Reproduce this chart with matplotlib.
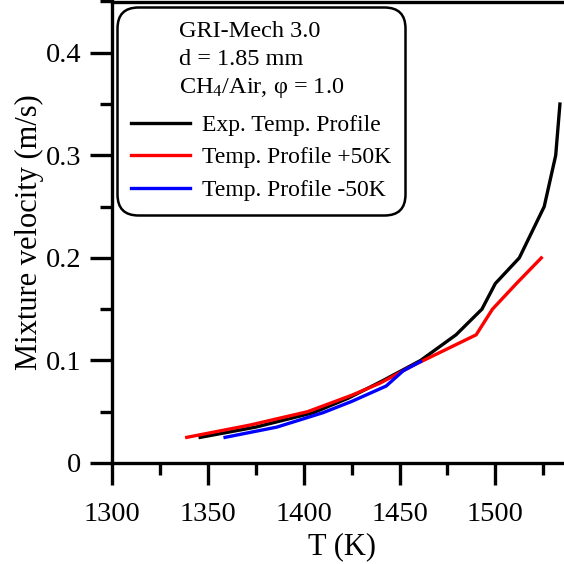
import matplotlib
matplotlib.use("Agg")
import matplotlib.pyplot as plt
from matplotlib.ticker import MultipleLocator, FuncFormatter

plt.rcParams['font.family'] = ['Liberation Serif', 'DejaVu Serif']
plt.rcParams['mathtext.fontset'] = 'custom'
plt.rcParams['mathtext.rm'] = 'Liberation Serif'
plt.rcParams['mathtext.it'] = 'Liberation Serif:italic'

# Experimental temperature profile
T_exp = [1346, 1375, 1405, 1423, 1441, 1461, 1479.5, 1493, 1500, 1512.5, 1525.5, 1531.5, 1533.7]
v_exp = [0.025, 0.035, 0.049, 0.063, 0.080, 0.100, 0.125, 0.150, 0.175, 0.200, 0.250, 0.300, 0.350]

# Temp. profile +50K
T_p50 = [1339, 1372, 1402, 1425, 1440, 1457, 1490, 1498.5, 1511, 1524]
v_p50 = [0.025, 0.037, 0.050, 0.066, 0.078, 0.095, 0.125, 0.150, 0.175, 0.200]

# Temp. profile -50K
T_m50 = [1359, 1386, 1410, 1425, 1443, 1452, 1461]
v_m50 = [0.025, 0.035, 0.049, 0.060, 0.075, 0.090, 0.099]

labels = ["Exp. Temp. Profile", "Temp. Profile +50K", "Temp. Profile -50K"]
colors = ["black", "#ff0000", "#0000ff"]
legend_title = "GRI-Mech 3.0\nd = 1.85 mm\nCH$_4$/Air, φ = 1.0"

W = 564
fig = plt.figure(figsize=(5.64, 5.64), dpi=100)
ax = fig.add_axes([112 / W, (564 - 463) / W, (572 - 112) / W, 461.5 / W])

for T, v, c, lab in zip([T_exp, T_p50, T_m50], [v_exp, v_p50, v_m50], colors, labels):
    ax.plot(T, v, color=c, lw=2.4, label=lab, solid_joinstyle='miter')

ax.set_xlim(1300, 1540)
ax.set_ylim(0, 0.45)
ax.xaxis.set_major_locator(MultipleLocator(50))
ax.xaxis.set_minor_locator(MultipleLocator(25))
ax.yaxis.set_major_locator(MultipleLocator(0.1))
ax.yaxis.set_minor_locator(MultipleLocator(0.05))
ax.yaxis.set_major_formatter(FuncFormatter(lambda y, p: "%g" % round(y, 3)))

for s in ['left', 'bottom', 'top']:
    ax.spines[s].set_linewidth(2.4)
ax.spines['right'].set_visible(False)

ax.tick_params(which='major', direction='out', length=16, width=2.4, labelsize=20.5)
ax.tick_params(which='minor', direction='out', length=8.5, width=2.4)
ax.tick_params(axis='x', which='major', pad=12)
ax.tick_params(axis='y', which='major', pad=6)

ax.set_xlabel("T (K)", fontsize=22, labelpad=4)
ax.set_ylabel("Mixture velocity (m/s)", fontsize=22, labelpad=1)

leg = ax.legend(title=legend_title, loc='upper left',
                bbox_to_anchor=(117 / W, 1 - 7 / W), bbox_transform=fig.transFigure,
                borderaxespad=0, fontsize=17, title_fontsize=17.5,
                handlelength=2.5, handletextpad=0.5, labelspacing=0.47,
                borderpad=0.6, fancybox=True, framealpha=1, edgecolor='black')
leg.get_title().set_linespacing(1.4)
leg._legend_box.sep = 10
leg.get_frame().set_linewidth(1.8)
leg.get_frame().set_boxstyle('round', pad=0, rounding_size=0.9)
for line in leg.get_lines():
    line.set_linewidth(2.4)

fig.savefig("out.png", dpi=100)
